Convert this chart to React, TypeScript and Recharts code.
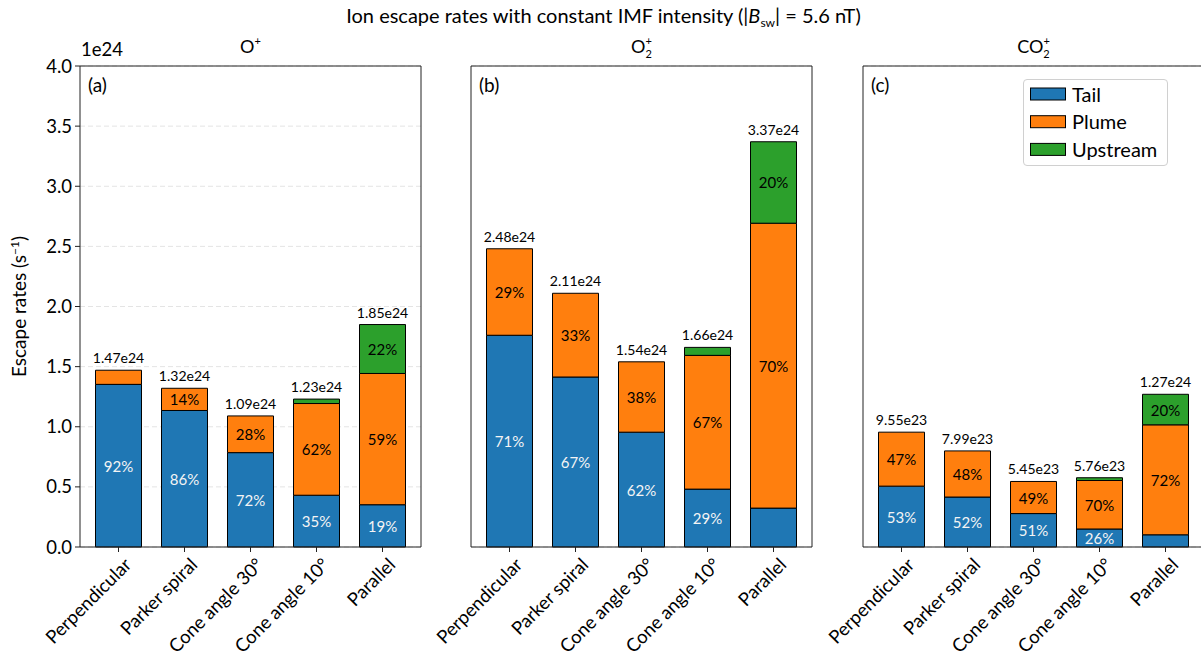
import React from 'react';
import { BarChart, Bar, XAxis, YAxis, CartesianGrid, LabelList, Legend } from 'recharts';

// ---------- data ----------
const categories = ['Perpendicular', 'Parker spiral', 'Cone angle 30°', 'Cone angle 10°', 'Parallel'];

// O+ (units of 1e24 s^-1)
const totalsOp = [1.47, 1.32, 1.09, 1.23, 1.85];
const tailPctOp = [92, 86, 72, 35, 19];
const plumePctOp = [8, 14, 28, 62, 59];
const upPctOp = [0, 0, 0, 3, 22];

// O2+
const totalsO2 = [2.48, 2.11, 1.54, 1.66, 3.37];
const tailPctO2 = [71, 67, 62, 29, 9.6];
const plumePctO2 = [29, 33, 38, 67, 70.3];
const upPctO2 = [0, 0, 0, 4, 20.1];

// CO2+
const totalsCO2 = [0.955, 0.799, 0.545, 0.576, 1.27];
const tailPctCO2 = [53, 52, 51, 26, 8];
const plumePctCO2 = [47, 48, 49, 70, 72];
const upPctCO2 = [0, 0, 0, 4, 20];

const yTicks = [0, 0.5, 1.0, 1.5, 2.0, 2.5, 3.0, 3.5, 4.0];
const seriesNames = ['Tail', 'Plume', 'Upstream'];
const panelLetters = ['(a)', '(b)', '(c)'];

// ---------- style ----------
const FONT = 'Lato, "DejaVu Sans", sans-serif';
const COLORS = ['#1f77b4', '#ff7f0e', '#2ca02c'];
const AXIS = '#222';
const PLOT_W = 341;
const Y_AXIS_W = 80;
const RIGHT_PAD = 19;
const CHART_W = Y_AXIS_W + PLOT_W + RIGHT_PAD + 1;
const CHART_H = 667;
const panelLefts = [80, 471, 863];
const TICK_FS = 18.5;

type Row = {
  name: string;
  tail: number;
  plume: number;
  up: number;
  total: number;
  tailPct: number;
  plumePct: number;
  upPct: number;
};

function buildRows(totals: number[], tail: number[], plume: number[], up: number[]): Row[] {
  return categories.map((name, i) => ({
    name,
    tail: (totals[i] * tail[i]) / 100,
    plume: (totals[i] * plume[i]) / 100,
    up: (totals[i] * up[i]) / 100,
    total: totals[i],
    tailPct: tail[i],
    plumePct: plume[i],
    upPct: up[i],
  }));
}

const panels = [
  { rows: buildRows(totalsOp, tailPctOp, plumePctOp, upPctOp) },
  { rows: buildRows(totalsO2, tailPctO2, plumePctO2, upPctO2) },
  { rows: buildRows(totalsCO2, tailPctCO2, plumePctCO2, upPctCO2) },
];

function fmtTotal(t: number): string {
  if (t >= 1) return `${t.toFixed(2)}e24`;
  return `${(t * 10).toFixed(2)}e23`;
}

function geom(props: any) {
  const vb = props.viewBox && props.viewBox.width !== undefined ? props.viewBox : props;
  return { x: Number(vb.x), y: Number(vb.y), width: Number(vb.width), height: Number(vb.height) };
}

// percentage label inside a segment; value = the segment's percentage
const pctContent = (color: string) => (props: any) => {
  const { x, y, width, height } = geom(props);
  const pct = Number(props.value);
  if (!(pct >= 12) || !(height > 0)) return null;
  return (
    <text x={x + width / 2} y={y + height / 2} textAnchor="middle" dominantBaseline="central"
      fill={color} fontSize={15} fontFamily={FONT}>{`${Math.round(pct)}%`}</text>
  );
};

// total label above the stacked bar, positioned from the tail segment's scale
const totalContent = (rows: Row[]) => (props: any) => {
  const { x, y, width, height } = geom(props);
  const r = rows[props.index];
  if (!r || !(height > 0) || !(r.tail > 0)) return null;
  const unit = height / r.tail;
  const topY = y + height - r.total * unit;
  return (
    <text x={x + width / 2} y={topY - 7} textAnchor="middle" fill="#000" fontSize={14}
      fontFamily={FONT}>{fmtTotal(r.total)}</text>
  );
};

const XTick = (props: any) => {
  const { x, y, payload } = props;
  const ax = x + 14;
  const ay = y + 12;
  return (
    <text x={ax} y={ay} textAnchor="end" transform={`rotate(-45 ${ax} ${ay})`} fontSize={TICK_FS}
      fontFamily={FONT} fill="#000">{payload.value}</text>
  );
};

const LegendBox = () => (
  <div style={{ width: 145, height: 87, boxSizing: 'border-box', border: '1px solid #d0d0d0', borderRadius: 4,
    background: 'rgba(255,255,255,0.85)' }}>
    <svg width={143} height={85} style={{ display: 'block' }}>
      {seriesNames.map((name, i) => (
        <g key={name}>
          <rect x={6.5} y={8 + i * 27.7} width={35} height={12} fill={COLORS[i]} stroke="#000" strokeWidth={1} />
          <text x={48} y={21.5 + i * 27.7} fontSize={20} fontFamily={FONT} fill="#000">{name}</text>
        </g>
      ))}
    </svg>
  </div>
);

function Panel({ idx }: { idx: number }) {
  const rows = panels[idx].rows;
  const left = panelLefts[idx] - Y_AXIS_W;
  return (
    <div style={{ position: 'absolute', left, top: 0 }}>
      <BarChart width={CHART_W} height={CHART_H} data={rows} margin={{ top: 65, right: RIGHT_PAD, bottom: 0, left: 0 }}>
        <CartesianGrid vertical={false} strokeDasharray="5 3" stroke="#e4e4e4" />
        <XAxis dataKey="name" height={120} interval={0} padding={{ left: 5.5, right: 5.5 }}
          tick={<XTick />} tickSize={5} tickMargin={2} tickLine={{ stroke: AXIS }} axisLine={{ stroke: AXIS }} />
        <XAxis xAxisId="top" orientation="top" dataKey="name" height={1} tick={false} tickLine={false}
          axisLine={{ stroke: AXIS }} />
        <YAxis width={Y_AXIS_W} domain={[0, 4]} ticks={yTicks} type="number" interval={0}
          tick={idx === 0 ? { fontSize: TICK_FS, fill: '#000', fontFamily: FONT } : false}
          tickFormatter={(v: number) => v.toFixed(1)} tickSize={5} tickMargin={3}
          tickLine={{ stroke: AXIS }} axisLine={{ stroke: AXIS }} />
        <YAxis yAxisId="r" orientation="right" width={1} domain={[0, 4]} type="number" tick={false}
          tickLine={false} axisLine={{ stroke: AXIS }} />
        <Bar dataKey="tail" name={seriesNames[0]} stackId="s" fill={COLORS[0]} stroke="#000" strokeWidth={1}
          barSize={46} isAnimationActive={false}>
          <LabelList dataKey="tailPct" content={pctContent('#f4f4f4')} />
          <LabelList dataKey="total" content={totalContent(rows)} />
        </Bar>
        <Bar dataKey="plume" name={seriesNames[1]} stackId="s" fill={COLORS[1]} stroke="#000" strokeWidth={1}
          barSize={46} isAnimationActive={false}>
          <LabelList dataKey="plumePct" content={pctContent('#000')} />
        </Bar>
        <Bar dataKey="up" name={seriesNames[2]} stackId="s" fill={COLORS[2]} stroke="#000" strokeWidth={1}
          barSize={46} isAnimationActive={false}>
          <LabelList dataKey="upPct" content={pctContent('#000')} />
        </Bar>
        {idx === 2 && (
          <Legend layout="vertical" align="center" verticalAlign="middle"
            wrapperStyle={{ left: 1023 - left, top: 79, width: 145, height: 87 }} content={<LegendBox />} />
        )}
      </BarChart>
    </div>
  );
}

function Overlay() {
  const titles = [
    { cx: 250.5, base: 'O', sub: '' },
    { cx: 641.5, base: 'O', sub: '2' },
    { cx: 1033.5, base: 'CO', sub: '2' },
  ];
  return (
    <svg width={1201} height={667} style={{ position: 'absolute', left: 0, top: 0, pointerEvents: 'none' }}>
      <text x={603.5} y={23} textAnchor="middle" fontSize={20} fontFamily={FONT} fill="#000">
        Ion escape rates with constant IMF intensity (|
        <tspan fontStyle="italic">B</tspan>
        <tspan fontSize={12} dy={4}>sw</tspan>
        <tspan dy={-4}>| = 5.6 nT)</tspan>
      </text>
      <text x={81} y={56} fontSize={18.5} fontFamily={FONT} fill="#000">1e24</text>
      <text x={26} y={306.5} transform="rotate(-90 26 306.5)" textAnchor="middle" fontSize={19} fontFamily={FONT} fill="#000">
        Escape rates (s<tspan fontSize={12} dy={-7}>−1</tspan><tspan dy={7}>)</tspan>
      </text>
      {titles.map((t, i) => (
        <text key={i} x={t.cx} y={53} textAnchor="middle" fontSize={18} fontFamily={FONT} fill="#000">
          {t.base}
          <tspan fontSize={11} dy={-8}>+</tspan>
          {t.sub ? <tspan fontSize={11} dx={-6.5} dy={13}>{t.sub}</tspan> : null}
        </text>
      ))}
      {panelLetters.map((l, i) => (
        <text key={l} x={panelLefts[i] + 8} y={92} fontSize={19} fontFamily={FONT} fill="#000">{l}</text>
      ))}
    </svg>
  );
}

export default function App() {
  return (
    <div style={{ position: 'absolute', left: 0, top: 0, width: 1201, height: 667, overflow: 'hidden',
      background: '#fff', fontFamily: FONT }}>
      <Panel idx={0} />
      <Panel idx={1} />
      <Panel idx={2} />
      <Overlay />
    </div>
  );
}
